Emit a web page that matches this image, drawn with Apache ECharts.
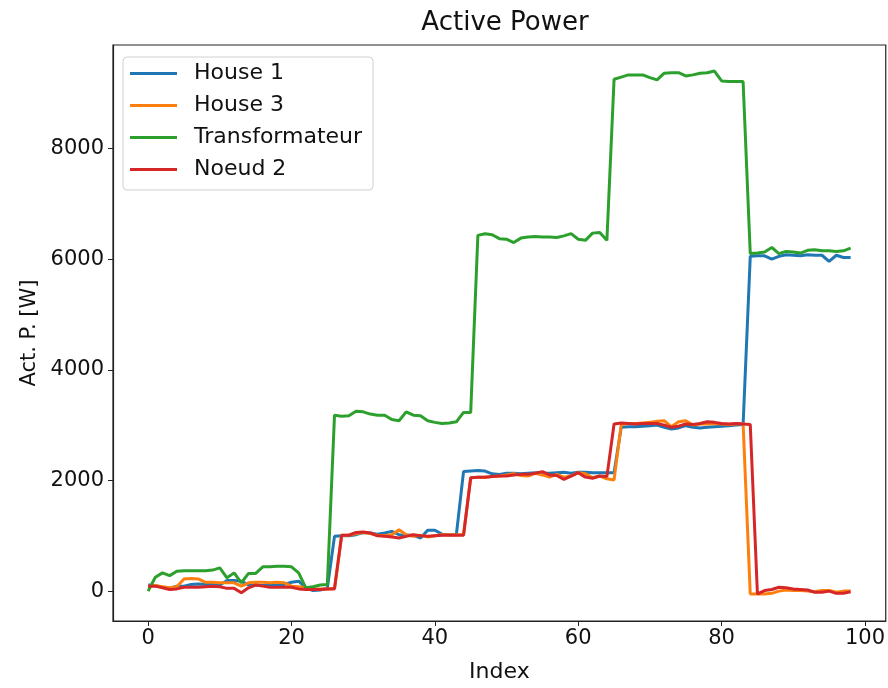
<!DOCTYPE html>
<html>
<head>
<meta charset="utf-8">
<script src="https://cdn.jsdelivr.net/npm/echarts@6/dist/echarts.min.js"></script>
<style>
  html, body { margin: 0; padding: 0; background: #fff; }
  #chart { width: 888px; height: 688px; }
</style>
</head>
<body>
<div id="chart"></div>
<script>
// series names, in drawing order
var seriesNames = ['House 1', 'House 3', 'Transformateur', 'Noeud 2'];

// Active power per index 0..98
var house1 = [110,100,70,50,90,90,120,130,120,120,
  110,190,190,180,110,110,100,110,110,120,
  160,180,60,10,20,50,990,1000,1000,1020,
  1060,1050,1030,1050,1080,1020,1010,1010,960,1100,
  1100,1030,1020,1020,2160,2170,2180,2170,2120,2110,
  2130,2130,2120,2130,2140,2130,2130,2140,2150,2130,
  2150,2150,2140,2140,2140,2140,2960,2970,2970,2980,
  2990,3000,2960,2930,2950,2990,2960,2950,2960,2970,
  2980,2990,3000,3010,6050,6060,6060,6000,6050,6080,
  6070,6060,6080,6070,6070,5960,6070,6030,6030];

var house3 = [90,100,80,60,80,220,230,220,160,160,
  150,150,150,90,150,160,160,150,160,150,
  90,80,60,40,40,40,50,1010,1010,1040,
  1060,1040,1010,1000,1020,1110,1020,990,1010,980,
  1000,1020,1020,1020,1020,2050,2060,2060,2070,2080,
  2100,2120,2090,2080,2130,2100,2060,2110,2060,2080,
  2140,2120,2050,2080,2030,2010,3010,3030,3030,3040,
  3050,3070,3080,2970,3060,3080,3000,3020,3020,3030,
  3020,3010,3020,3030,-50,-50,-50,-40,0,20,
  10,10,0,-10,10,10,-20,0,0];

var transfo = [0,250,330,280,360,370,370,370,370,380,
  420,240,330,150,320,320,440,440,450,450,
  440,330,60,80,110,120,3180,3160,3170,3250,
  3240,3200,3180,3180,3100,3080,3240,3180,3170,3080,
  3050,3030,3040,3060,3230,3230,6430,6460,6440,6370,
  6360,6300,6380,6400,6410,6400,6400,6390,6420,6460,
  6360,6340,6470,6480,6340,9250,9290,9330,9330,9330,
  9280,9240,9360,9370,9370,9310,9330,9360,9370,9400,
  9220,9210,9210,9210,6100,6110,6130,6210,6100,6140,
  6130,6110,6160,6170,6150,6150,6140,6150,6200];

var noeud2 = [90,90,60,30,40,70,70,70,80,90,
  80,50,50,-30,60,110,90,70,70,70,
  70,40,30,30,30,40,40,1010,1010,1060,
  1070,1050,1000,990,980,960,990,1020,1000,990,
  1000,1010,1010,1010,1010,2050,2060,2060,2070,2080,
  2080,2100,2110,2110,2130,2160,2100,2090,2020,2080,
  2140,2060,2040,2080,2070,3020,3040,3030,3020,3030,
  3030,3030,3000,2960,2980,3020,3010,3030,3060,3050,
  3030,3020,3030,3020,3010,-50,10,30,70,60,
  40,30,20,-20,-20,0,-40,-40,-10];

var xTicks = [0, 20, 40, 60, 80, 100];
var yTicks = [0, 2000, 4000, 6000, 8000];

var colors = ['#1f77b4', '#ff7f0e', '#2ca02c', '#d62728'];
var allData = [house1, house3, transfo, noeud2];

function toPairs(arr) {
  var out = [];
  for (var i = 0; i < arr.length; i++) out.push([i, arr[i]]);
  return out;
}

var chart = echarts.init(document.getElementById('chart'));
var font = 'DejaVu Sans';

var series = [];
for (var k = 0; k < seriesNames.length; k++) {
  series.push({
    name: seriesNames[k],
    type: 'line',
    data: toPairs(allData[k]),
    showSymbol: false,
    symbol: 'none',
    lineStyle: { color: colors[k], width: 3 },
    itemStyle: { color: colors[k] },
    z: 2 + k
  });
}

var option = {
  animation: false,
  backgroundColor: '#fff',
  title: {
    text: 'Active Power',
    left: 500, top: 5, textAlign: 'center',
    textStyle: { fontFamily: font, fontSize: 26, fontWeight: 'normal', color: '#111' }
  },
  legend: {
    orient: 'vertical',
    left: 123, top: 57,
    data: seriesNames,
    icon: 'rect',
    itemWidth: 47, itemHeight: 3,
    itemGap: 7,
    padding: [4, 11, 8, 7],
    backgroundColor: '#fff',
    borderColor: '#d0d0d0', borderWidth: 1, borderRadius: 4,
    textStyle: { fontFamily: font, fontSize: 22, color: '#111', lineHeight: 25, padding: [0, 0, 0, 12] }
  },
  grid: {
    left: 113, right: 1, top: 45, bottom: 64,
    show: true, borderColor: '#222', borderWidth: 1.2
  },
  xAxis: {
    type: 'value',
    min: -4.9, max: 102.9,
    name: 'Index', nameLocation: 'middle', nameGap: 40,
    nameTextStyle: { fontFamily: font, fontSize: 22, color: '#111' },
    splitLine: { show: false },
    axisLine: { show: true, onZero: false, lineStyle: { color: '#222', width: 1.2 } },
    axisTick: { show: true, length: 5, customValues: xTicks, lineStyle: { color: '#222' } },
    axisLabel: { customValues: xTicks, margin: 7, fontFamily: font, fontSize: 21, color: '#111' }
  },
  yAxis: {
    type: 'value',
    min: -540, max: 9870,
    name: 'Act. P. [W]', nameLocation: 'middle', nameGap: 73, nameRotate: 90,
    nameTextStyle: { fontFamily: font, fontSize: 21, color: '#111' },
    splitLine: { show: false },
    axisLine: { show: true, onZero: false, lineStyle: { color: '#222', width: 1.2 } },
    axisTick: { show: true, length: 5, customValues: yTicks, lineStyle: { color: '#222' } },
    axisLabel: {
      customValues: yTicks, margin: 9, fontFamily: font, fontSize: 21, color: '#111',
      formatter: function (v) { return String(v); }
    }
  },
  series: series
};

chart.setOption(option, true);
</script>
</body>
</html>
